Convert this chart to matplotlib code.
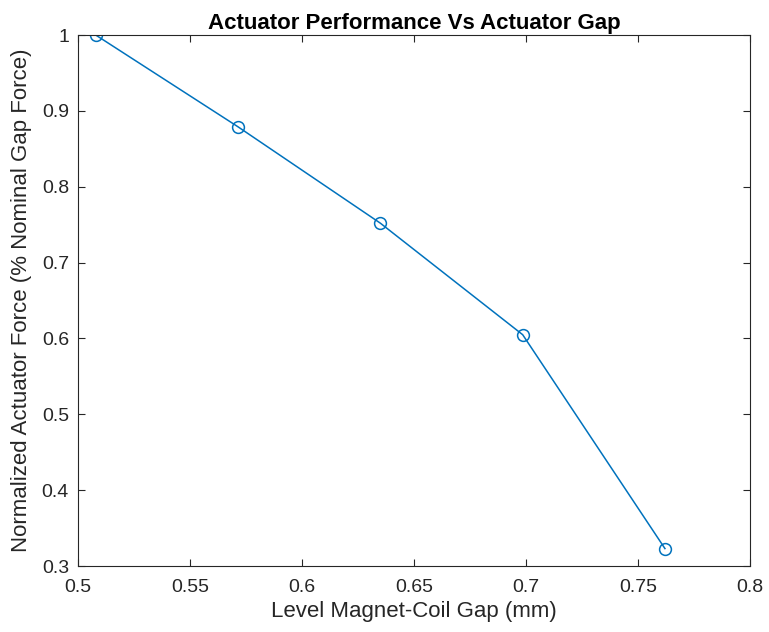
import matplotlib
matplotlib.use("Agg")
import matplotlib.pyplot as plt

# gap (mm) and normalized force
gap_mm = [0.508, 0.5715, 0.635, 0.6985, 0.762]
force_norm = [1.0, 0.879, 0.752, 0.605, 0.323]

plt.rcParams['font.family'] = ['Liberation Sans', 'DejaVu Sans']
dark = '#262626'

fig = plt.figure(figsize=(7.69, 6.32), dpi=100)
ax = fig.add_axes([0.1014, 0.1044, 0.874, 0.840])

ax.plot(gap_mm, force_norm, '-o', color='#0072BD', lw=1.1,
        markersize=8.5, markerfacecolor='none', markeredgewidth=1.1)

ax.set_xlim(0.5, 0.8)
ax.set_ylim(0.3, 1.0)
ax.set_xticks([0.5, 0.55, 0.6, 0.65, 0.7, 0.75, 0.8])
ax.set_xticklabels(['0.5', '0.55', '0.6', '0.65', '0.7', '0.75', '0.8'])
ax.set_yticks([0.3, 0.4, 0.5, 0.6, 0.7, 0.8, 0.9, 1.0])
ax.set_yticklabels(['0.3', '0.4', '0.5', '0.6', '0.7', '0.8', '0.9', '1'])

ax.tick_params(direction='in', top=True, right=True, length=5, width=0.8,
               colors=dark, labelsize=14)
ax.tick_params(axis='x', pad=9)
ax.tick_params(axis='y', pad=6.5)
for s in ax.spines.values():
    s.set_color(dark)
    s.set_linewidth(0.8)

ax.set_title('Actuator Performance Vs Actuator Gap', fontsize=16,
             fontweight='bold', color='black', pad=4.5)
ax.set_xlabel('Level Magnet-Coil Gap (mm)', fontsize=16, color=dark,
              labelpad=4)
ax.set_ylabel('Normalized Actuator Force (% Nominal Gap Force)', fontsize=16,
              color=dark, labelpad=7)

fig.savefig('out.png', dpi=100)
